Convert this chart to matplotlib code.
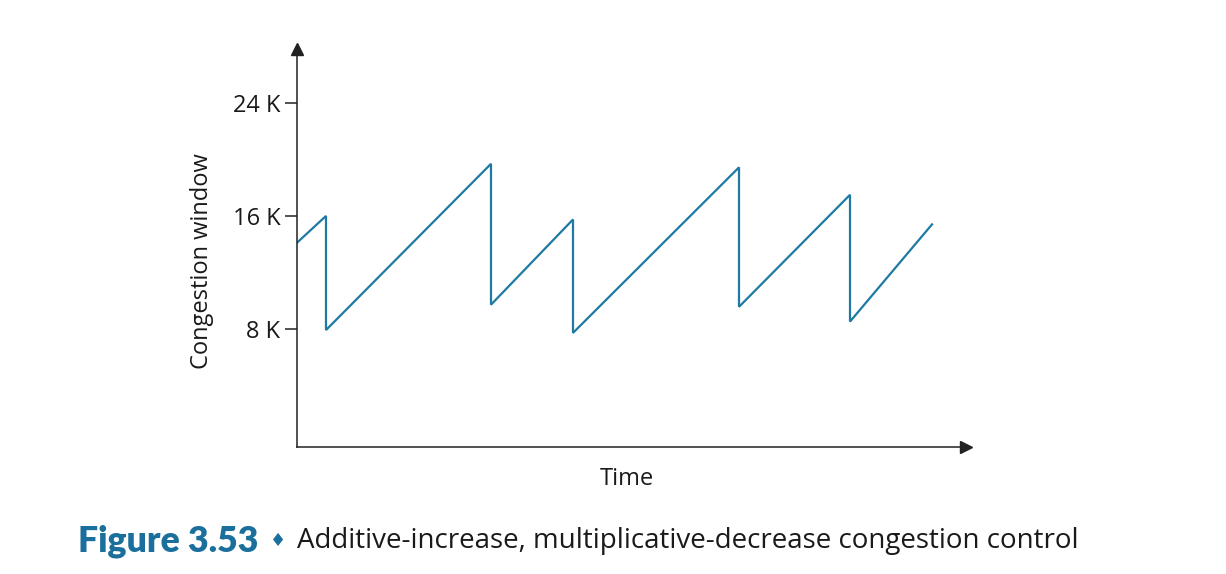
import matplotlib
matplotlib.use('Agg')
import matplotlib.pyplot as plt

# Values (time in arbitrary units, window in K)
time = [0, 2.9, 2.9, 19.4, 19.4, 27.6, 27.6, 44.2, 44.2, 55.3, 55.3, 63.5]
cwnd = [14.1, 16.0, 7.9, 19.7, 9.7, 15.75, 7.7, 19.45, 9.55, 17.5, 8.5, 15.4]

yticks = [8, 16, 24]
ytick_labels = ['8 K', '16 K', '24 K']

line_color = '#1f7aa3'
caption_color = '#1b6f9c'
axis_color = '#222222'
text_color = '#1a1a1a'

plt.rcParams['font.family'] = ['Open Sans', 'DejaVu Sans']

W, H = 1226, 574
fig = plt.figure(figsize=(W / 100, H / 100), dpi=100)
# axes from y-axis (x=297) to arrow centre, x-axis (y=447) up to arrow centre
ax = fig.add_axes([297 / W, 1 - 447 / H, (966 - 297) / W, (447 - 49) / H])

ax.plot(time, cwnd, color=line_color, linewidth=1.6, solid_joinstyle='miter')

ax.set_xlim(0, 66.9)
ax.set_ylim(-0.4, 27.85)

for side in ['top', 'right']:
    ax.spines[side].set_visible(False)
for side in ['left', 'bottom']:
    ax.spines[side].set_color(axis_color)
    ax.spines[side].set_linewidth(1.1)

# arrow heads at the ends of the axes
ax.plot([1], [0], marker='>', markersize=9, color=axis_color,
        transform=ax.transAxes, clip_on=False)
ax.plot([0], [1], marker='^', markersize=9, color=axis_color,
        transform=ax.transAxes, clip_on=False)

ax.set_xticks([])
ax.set_yticks(yticks)
ax.set_yticklabels(ytick_labels, fontsize=17, color=text_color)
ax.tick_params(axis='y', direction='out', length=9, width=1.1,
               color=axis_color, pad=3)

fig.text(202 / W, 1 - 261 / H, 'Congestion window', fontsize=17,
         color=text_color, rotation=90, ha='center', va='center')
fig.text(627 / W, 1 - 479 / H, 'Time', fontsize=17, color=text_color,
         ha='center', va='center')

# caption
cap_y = 1 - 541 / H
fig.text(78 / W, cap_y, 'Figure 3.53', fontsize=25.7, fontweight='heavy',
         family=['Lato', 'DejaVu Sans'], color=caption_color, va='center')
fig.text(278 / W, cap_y, '\u2666', fontsize=13, family=['DejaVu Sans'],
         color=caption_color, ha='center', va='center')
fig.text(297 / W, cap_y,
         'Additive-increase, multiplicative-decrease congestion control',
         fontsize=20, color=text_color, va='center')

fig.savefig('out.png', dpi=100)
